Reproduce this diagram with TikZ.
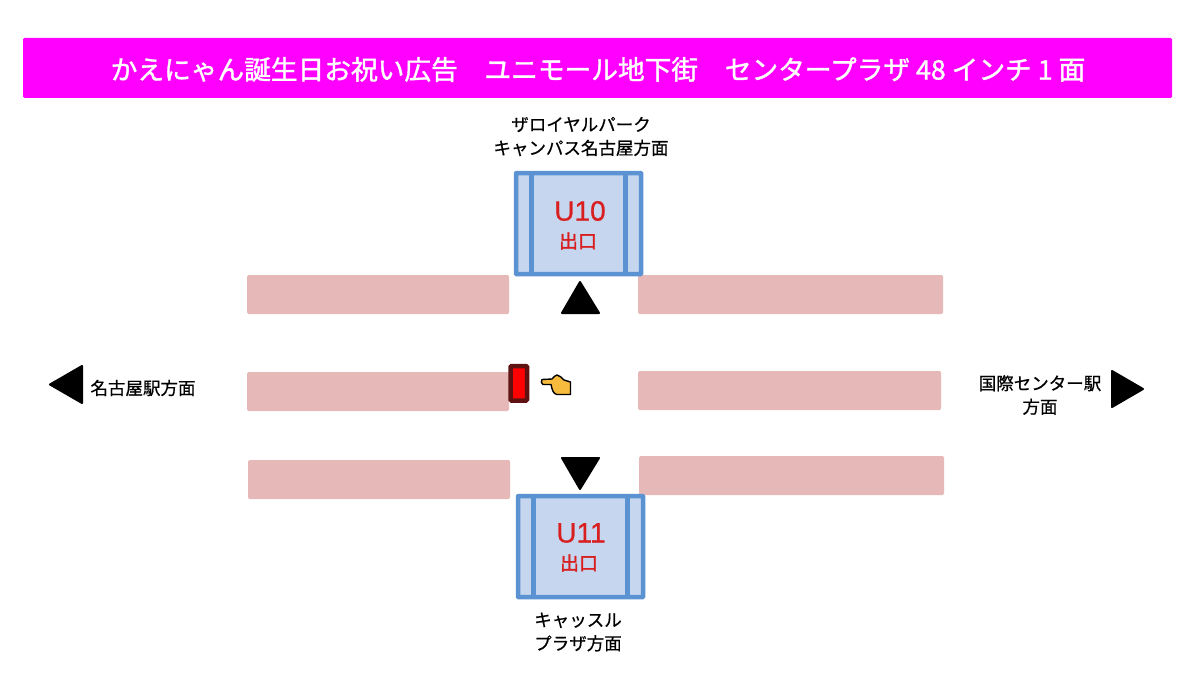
\documentclass[tikz,border=0pt]{standalone}
\usepackage{fontspec}
\setmainfont{Noto Sans CJK JP}
\newfontfamily\jpmed{Noto Sans CJK JP}[FakeBold=1.4]
\newfontfamily\jpthin{Noto Sans CJK JP}[FakeBold=0.6]
\newfontfamily\latinname{Liberation Sans}[FakeBold=0.8]
\definecolor{titlemag}{HTML}{FF00FF}
\definecolor{wallpink}{HTML}{E6B8B7}
\definecolor{exitblue}{HTML}{C6D6EF}
\definecolor{exitline}{HTML}{5B92D2}
\definecolor{exitred}{HTML}{D81E1E}
\definecolor{darkred}{HTML}{5E1212}
\definecolor{handyellow}{HTML}{F6BB3C}
\tikzset{
  wall/.style={fill=wallpink,draw=none,rounded corners=1.5pt},
  exitbox/.style={fill=exitblue,draw=exitline,line width=4.5pt,rounded corners=0.5pt},
  exitbar/.style={draw=exitline,line width=5pt},
  tri/.style={fill=black,draw=black,line width=2pt,line join=round},
  lbl/.style={font=\fontsize{17.5}{23.5}\selectfont\jpthin,align=center,text=black,inner sep=0pt},
  exitname/.style={font=\fontsize{28}{28}\selectfont\latinname,text=exitred,inner sep=0pt},
  exitsub/.style={font=\fontsize{19}{19}\selectfont\jpmed,text=exitred,inner sep=0pt}
}
\begin{document}
\begin{tikzpicture}[x=1pt,y=-1pt]
\useasboundingbox (0,0) rectangle (1199,682);
\fill[white] (0,0) rectangle (1199,682);
\fill[titlemag,rounded corners=1.5pt] (23,38) rectangle (1172,98);
\node[inner sep=0pt,text=white,font=\fontsize{26.7}{27}\selectfont\jpmed] (title) at (598,69.5) {かえにゃん誕生日お祝い広告　ユニモール地下街　センタープラザ 48 インチ 1 面};
\fill[wall] (247,275) rectangle (509,314);
\fill[wall] (638,275) rectangle (943,314);
\fill[wall] (247,372) rectangle (509,411);
\fill[wall] (638,371) rectangle (941,410);
\fill[wall] (248,460) rectangle (510,499);
\fill[wall] (639,456) rectangle (944,495);
% upper exit
\draw[exitbox] (516,173) rectangle (641,274);
\draw[exitbar] (531.5,173) -- (531.5,274);
\draw[exitbar] (625,173) -- (625,274);
\node[exitname] (u10) at (580,211) {U10};
\node[exitsub] (u10s) at (578,241) {出口};
% lower exit
\draw[exitbox] (518,496) rectangle (643,597);
\draw[exitbar] (533.5,496) -- (533.5,597);
\draw[exitbar] (627,496) -- (627,597);
\node[exitname] (u11) at (581,533) {U11};
\node[exitsub] (u11s) at (579,563) {出口};
% triangles
\draw[tri] (580,282) -- (599,313) -- (562,313) -- cycle;
\draw[tri] (562,458) -- (599,458) -- (580,489) -- cycle;
\draw[tri] (50,384.5) -- (82,366) -- (82,403) -- cycle;
\draw[tri] (1143,389) -- (1112,371) -- (1112,407) -- cycle;
% labels
\node[lbl] (north) at (581,136.5) {ザロイヤルパーク\\キャンパス名古屋方面};
\node[lbl] (south) at (578,632) {キャッスル\\プラザ方面};
\node[lbl] (west) at (143,388) {名古屋駅方面};
\node[lbl] (east) at (1040,395) {国際センター駅\\方面};
% red panel
\draw[fill=red,draw=darkred,line width=4.5pt,rounded corners=1pt] (510.5,366) rectangle (527,400.5);
% hand
\draw[fill=handyellow,draw=black,line width=1.4pt,line join=round]
  (542,379.5) -- (552,379) .. controls (554.5,377) and (555,375) .. (557,375)
  .. controls (560,375) and (561,378) .. (564,380) -- (570.5,382) -- (570.5,394.5)
  -- (557,394.5) .. controls (553,394) and (552,389) .. (551,384.5) -- (543,384.5)
  .. controls (541,384) and (541,381) .. (542,379.5) -- cycle;
\end{tikzpicture}
\end{document}
